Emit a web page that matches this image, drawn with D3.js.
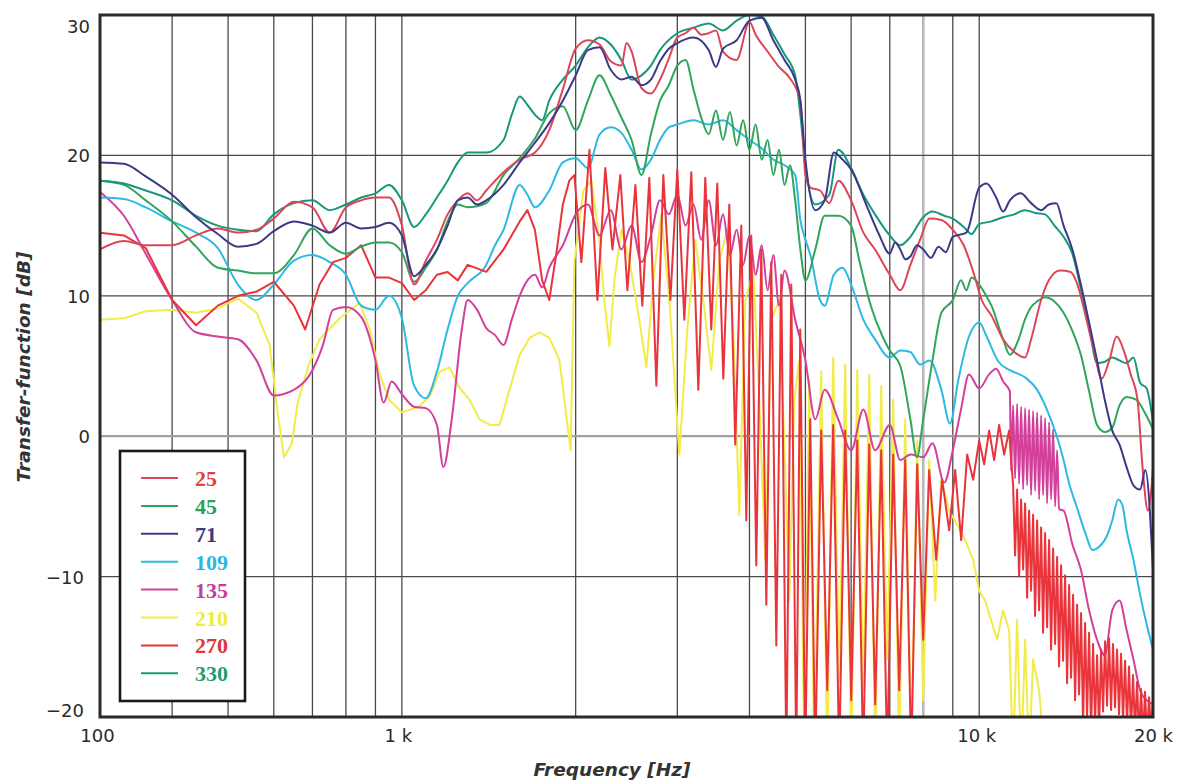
<!DOCTYPE html>
<html><head><meta charset="utf-8">
<script src="https://cdn.jsdelivr.net/npm/d3@7"></script>
<style>
body{margin:0;background:#fff;}
svg{display:block;}
</style></head>
<body>
<svg id="chart" width="1186" height="783"></svg>
<script>
// ---------------- data ----------------
const yTicks = [-20, -10, 0, 10, 20, 30];
const xTickValues = [300, 1000, 10000, 20000];
const xTickLabels = ["100", "1 k", "10 k", "20 k"];
const xGridFreqs = [400,500,600,700,800,900,1000,2000,3000,4000,5000,6000,7000,8000,9000,10000];
const seriesNames = ["25","45","71","109","135","210","270","330"];
const seriesColors = ["#dc4658","#30a55c","#3a3a88","#2cb9e2","#d2409c","#f1ec4c","#e8343a","#17987a"];
const legendTextColors = ["#e2403e","#2f9f52","#3b3b7e","#2bb5e6","#c43e9e","#eeee3a","#e0343e","#1d9e6e"];

const s25 = [[300,13.3],[330,13.9],[360,13.6],[400,13.6],[440,14.3],[480,14.8],[520,14.5],[560,14.7],[600,15.5],[650,16.7],[700,16.3],[750,14.5],[800,16.3],[850,16.8],[900,17],[950,17],[1000,15],[1050,10.8],[1100,12.5],[1150,14],[1200,15.8],[1250,16.8],[1300,17.3],[1350,16.8],[1400,17.5],[1500,18.8],[1600,19.7],[1700,20.2],[1800,21.8],[1900,24.7],[2000,27.6],[2100,28.2],[2200,27.9],[2300,26.7],[2400,26.4],[2450,28],[2500,27.4],[2600,24.8],[2700,24.4],[2800,25.4],[2900,26.9],[3000,28.4],[3100,28.7],[3200,29.1],[3300,28.6],[3400,28.7],[3500,28.9],[3600,27.4],[3800,26.8],[4000,29.5],[4100,28.6],[4300,27.4],[4500,26.3],[4700,25.5],[4900,23.9],[5000,18.6],[5100,17.7],[5300,17.5],[5500,16.6],[5700,18.2],[6000,16.8],[6300,14.5],[6600,13.3],[7000,11.5],[7300,10.4],[7600,12.2],[7900,14],[8200,15.5],[8600,15.4],[9000,14.7],[9400,13.6],[9800,11.5],[10100,9.7],[10500,8.6],[11000,6.9],[11500,6],[12000,5.6],[12300,6.9],[12800,9.7],[13200,11.1],[13800,11.8],[14400,11.7],[14800,10.8],[15300,8.5],[15800,6.1],[16300,4.1],[16800,5.4],[17300,7.1],[17800,6.1],[18300,4.4],[18800,2.6],[19200,-2.4],[19600,-5.3],[20000,-2.4]];

const s45 = [[300,18.2],[330,17.9],[360,16.8],[400,15.3],[440,13.5],[480,12],[520,11.8],[560,11.6],[600,11.6],[650,12.9],[700,14.8],[750,13.6],[800,13],[850,13.5],[900,13.8],[950,13.8],[1000,13.1],[1050,11],[1100,12],[1150,13.3],[1200,15.3],[1250,16.5],[1300,16.3],[1400,16.6],[1500,18.6],[1600,19.8],[1700,21.2],[1800,23],[1900,23.5],[2000,21.8],[2100,23.9],[2200,25.7],[2300,24.3],[2400,22.7],[2500,21.1],[2600,18.6],[2700,21.5],[2800,23.9],[2900,25],[3000,26.4],[3100,26.8],[3200,24.7],[3300,22.7],[3400,21.5],[3500,23.2],[3600,21.1],[3700,23.1],[3800,20.7],[3900,22.5],[4000,20.4],[4100,22.2],[4200,19.7],[4300,21.1],[4400,18.6],[4500,20.4],[4600,17.9],[4700,19.3],[4800,16.8],[4900,13.3],[5000,11.1],[5200,13.3],[5400,15.7],[5700,15.7],[6000,15],[6200,12.5],[6500,9.2],[6800,7.1],[7000,6.1],[7300,5],[7600,1.2],[7800,-1.5],[8000,1.2],[8300,5.4],[8600,8.8],[9000,9.7],[9300,11.1],[9500,10.4],[9700,11.3],[10000,10.8],[10250,10.1],[10500,9.3],[11000,6.9],[11300,5.8],[11700,6.9],[12000,8.3],[12300,9.2],[12600,9.6],[13000,9.9],[13500,9.6],[14000,8.8],[14500,7.5],[15000,5.8],[15500,3.2],[16000,0.8],[16500,0.3],[17000,0.6],[17500,2.2],[18000,2.8],[18700,2.6],[19400,1.6],[20000,0.5]];

const s71 = [[300,19.5],[330,19.4],[360,18.5],[400,17.2],[440,15.6],[480,14.4],[520,13.5],[560,13.7],[600,14.6],[650,15.3],[700,15],[750,14.5],[800,15.2],[850,14.8],[900,14.9],[950,15.2],[1000,14.3],[1050,11.4],[1100,12.2],[1150,13.3],[1200,15],[1250,16.8],[1300,17],[1350,16.5],[1400,16.8],[1500,17.9],[1600,19.5],[1700,20.9],[1800,22.3],[1900,23.9],[2000,25.7],[2100,27.5],[2200,27.7],[2300,26.1],[2400,25.4],[2500,25.6],[2600,25],[2700,25.4],[2800,26.7],[2900,27.6],[3000,28],[3200,28.4],[3400,27.5],[3500,26.3],[3600,27.6],[3800,28.2],[4000,29.6],[4200,29.8],[4400,28.2],[4600,26.8],[4800,25.4],[4900,23.9],[5000,19.7],[5200,16.1],[5400,16.8],[5600,20.2],[5800,19.7],[6000,19],[6400,16.3],[6700,14.4],[7000,13],[7150,13.8],[7300,13.3],[7450,12.6],[7600,12.8],[7800,13.6],[8000,13.3],[8250,12.7],[8500,13.5],[8750,13.1],[9000,14.2],[9500,14.5],[10000,17.7],[10300,18],[10700,17],[11000,16],[11300,16.8],[11800,17.3],[12300,16.6],[12800,16.1],[13200,16.5],[13600,16.6],[14000,15],[14500,13.3],[15000,10.8],[15500,8.1],[16000,5.4],[16500,2.6],[17000,0.4],[17500,-0.6],[18000,-2.2],[18500,-3.5],[19000,-3.8],[19400,-2.4],[20000,-9.5]];

const s109 = [[300,17],[330,16.9],[360,16.3],[400,15.3],[440,14.5],[480,13.4],[520,10.8],[560,9.7],[600,10.8],[650,12.5],[700,12.9],[750,12.4],[800,11.5],[850,9.3],[900,9],[950,10],[1000,8.4],[1050,3.6],[1100,2.7],[1150,4.6],[1200,7.6],[1250,10],[1300,10.9],[1400,12.2],[1450,13.6],[1500,14.7],[1600,17.9],[1650,17.2],[1700,16.3],[1800,17.5],[1900,19.5],[2000,19.8],[2100,19.1],[2200,21.5],[2300,22],[2400,21.6],[2500,20.4],[2600,19],[2700,19.7],[2800,21.1],[2900,22],[3000,22.2],[3200,22.5],[3400,22.2],[3600,22.5],[3800,21.8],[4000,21.1],[4200,20.5],[4400,19.7],[4600,19.3],[4800,18.6],[4900,15.4],[5000,14],[5100,12.9],[5300,9.7],[5400,9.3],[5600,11.5],[5800,12],[6000,10.8],[6300,8.3],[6600,6.9],[7000,5.6],[7300,6.1],[7600,6],[7900,5.1],[8200,5.4],[8600,3.3],[8900,0.9],[9200,4],[9600,7.1],[10000,8.1],[10300,7.1],[10800,5.3],[11300,4.7],[12000,4.2],[12600,3.3],[13100,1.9],[13600,0.1],[14000,-1.7],[14300,-3.3],[14800,-5.2],[15300,-7],[15700,-8.1],[16200,-7.8],[16600,-7.2],[17000,-6],[17400,-4.5],[17700,-4.9],[18000,-6.7],[18500,-8.8],[19000,-11.3],[19500,-13.4],[20000,-15.2]];

const s135 = [[300,17.4],[330,15.7],[360,13],[400,9.7],[440,7.4],[480,7.1],[520,6.9],[560,5.4],[600,2.9],[650,3.3],[700,4.7],[730,6.5],[760,9],[800,9.2],[850,8.5],[900,5.4],[930,2.4],[960,3.9],[1000,3],[1050,2.1],[1100,2],[1150,0.8],[1180,-2.2],[1220,1.2],[1270,7.6],[1300,9.7],[1350,9],[1400,7.7],[1450,7.2],[1500,6.5],[1550,8.3],[1600,10],[1650,11.1],[1700,11.5],[1750,10.6],[1800,12],[1900,13.6],[2000,15.8],[2100,16.5],[2200,14.3],[2300,16.1],[2400,13.3],[2500,15],[2600,12.4],[2700,14.3],[2800,16.8],[2900,15.8],[3000,17.2],[3100,15],[3200,16.5],[3300,14],[3400,16.8],[3500,13.6],[3600,15.8],[3700,12.9],[3800,14.7],[3900,12.2],[4000,14.3],[4100,11.5],[4200,13.6],[4300,10.4],[4400,12.9],[4500,9.3],[4600,11.8],[4800,8.3],[5000,5.4],[5200,1.2],[5400,3.3],[5700,1.2],[6000,-1],[6300,1.9],[6600,-1],[7000,0.8],[7300,-1.7],[7600,-1.3],[8000,-1.5],[8300,-0.5],[8700,-3.3],[9000,-1],[9300,1.9],[9600,4.4],[10000,3.4],[10400,4.4],[10700,4.8],[11000,3.9],[11300,3.2],[11357,-2.5],[11447,2.2],[11539,-3],[11632,2.3],[11725,-3.4],[11819,2.1],[11914,-3.8],[12009,2],[12105,-3.5],[12202,1.9],[12300,-4.2],[12398,1.8],[12497,-3.9],[12597,1.7],[12698,-4.5],[12800,1.5],[12902,-4.2],[13005,1.3],[13110,-4.8],[13215,1],[13321,-4.5],[13427,0.5],[13535,-5],[13643,-1],[13752,-5.2],[14000,-5.3],[14500,-7.7],[15000,-9.5],[15500,-12.4],[16000,-14.5],[16500,-15.6],[17000,-12.4],[17500,-11.7],[18000,-13.8],[18500,-15.9],[19000,-18.1],[19500,-18.8],[20000,-19.1]];

const s210 = [[300,8.3],[330,8.4],[360,8.9],[400,9],[440,8.8],[480,9.1],[520,9.8],[560,8.8],[590,6.5],[610,1.5],[625,-1.5],[645,-0.5],[660,2.4],[690,5.1],[720,6.9],[780,8.4],[845,9.5],[880,7.6],[915,4.4],[950,2.6],[1000,1.7],[1070,2.1],[1120,2.9],[1162,4.6],[1210,4.9],[1260,3.4],[1310,2.6],[1363,1.2],[1420,0.8],[1476,0.8],[1536,3.3],[1600,5.8],[1664,7],[1731,7.4],[1801,7],[1875,5.4],[1930,1.2],[1960,-1],[1990,12.5],[2063,17.5],[2130,18.2],[2198,14],[2242,9.7],[2288,6.4],[2334,11.1],[2400,14.7],[2478,12.5],[2578,8.3],[2651,4.9],[2726,11.1],[2814,15.8],[2906,9.7],[3024,-1.3],[3122,7.6],[3223,14],[3327,9.7],[3435,4.7],[3547,12.5],[3662,14.7],[3750,7.6],[3841,-5.6],[3934,9.7],[4061,11.8],[4160,2.6],[4261,-8.8],[4364,8.3],[4505,9.7],[4614,-2.4],[4688,-11.7],[4782,2.6],[4879,5.4],[4977,-23],[5077,4],[5179,-23],[5326,4.6],[5455,-23],[5586,5.6],[5722,-17.4],[5860,5.1],[6003,-23],[6148,4.7],[6296,-18.1],[6449,4.4],[6605,-23],[6765,3.6],[6928,-15.9],[7096,2.6],[7268,-23],[7444,1.2],[7625,-23],[7809,-0.3],[7997,-18.8],[8191,-1.7],[8389,-11.7],[8592,-3.1],[8871,-5.3],[9158,-6.3],[9456,-7.4],[9761,-8.8],[9998,-11],[10240,-11.7],[10487,-13.1],[10741,-14.5],[11000,-12.4],[11267,-13.8],[11447,-23],[11632,-13.1],[11819,-23],[12009,-14.5],[12202,-23],[12397,-15.9],[12698,-18.1],[13005,-23]];

const s270 = [[300,14.5],[330,14.3],[360,13.4],[400,9.7],[440,7.9],[480,9.3],[520,10],[560,10.3],[600,11],[650,9.3],[680,7.6],[720,10.8],[760,12.4],[800,12.7],[850,13.6],[900,11.3],[950,11.3],[1000,10.9],[1050,9.7],[1100,10.4],[1150,11.5],[1200,11.7],[1250,11.1],[1300,12.2],[1400,11.7],[1500,13.3],[1600,15.3],[1650,16.1],[1700,14.7],[1750,11.1],[1800,9.7],[1850,12.9],[1900,16.5],[1950,18.2],[1990,18.6],[2046,12.4],[2113,20.4],[2181,9.7],[2251,19.1],[2316,13.3],[2390,18.6],[2458,10.4],[2538,17.9],[2609,9.3],[2683,18.4],[2759,3.6],[2837,18.6],[2918,9.7],[3000,19],[3085,8.3],[3172,18.8],[3262,3.3],[3354,18.4],[3435,7.6],[3518,18],[3604,4.1],[3691,16.5],[3780,-0.6],[3872,15],[3950,-6],[4029,14.3],[4110,-9.2],[4193,13.3],[4278,-12],[4364,12.4],[4452,-14.9],[4541,11.5],[4633,-23],[4726,10.8],[4821,-23],[4898,7.6],[4997,-23],[5097,1.2],[5200,-23],[5326,0.4],[5455,-18.1],[5586,0.8],[5722,-23],[5860,0.4],[6003,-18.8],[6148,-0.3],[6296,-23],[6449,-0.6],[6605,-19.1],[6765,-1],[6928,-23],[7096,-1.3],[7268,-18.1],[7444,-1.7],[7625,-23],[7809,-2],[7997,-14.5],[8191,-2.4],[8423,-8.8],[8626,-3.1],[8871,-6.7],[9086,-2.4],[9306,-7.4],[9531,-1.3],[9761,-3.1],[9998,-0.3],[10199,-2],[10404,0.4],[10613,-1.7],[10827,0.8],[11045,-1.3],[11267,0.4],
  [11447,-3.5],[11539,-8.5],[11632,-3.8],[11725,-10],[11819,-4.5],[11914,-9.5],[12009,-4.8],[12105,-11.5],[12202,-5.3],[12300,-11],[12398,-5.6],[12497,-12.8],[12597,-6],[12698,-12.4],[12800,-6.5],[12902,-14],[13005,-6.9],[13110,-13.6],[13215,-7.4],[13321,-15.2],[13427,-8],[13535,-14.8],[13643,-8.6],[13752,-16.4],[13862,-9.2],[13973,-16],[14085,-9.9],[14198,-17.6],[14311,-10.6],[14426,-17.2],[14541,-11.3],[14658,-18.8],[14775,-12],[14893,-18.4],[15012,-12.6],[15132,-20.5],[15253,-13.3],[15375,-20],[15499,-14],[15623,-21],[15748,-14.8],[15874,-20.5],[16001,-15.6],[16129,-21],[16258,-15.2],[16388,-19.6],[16519,-14.6],[16651,-19.2],[16785,-14.4],[16919,-19.5],[17054,-14.8],[17191,-19.3],[17328,-15.2],[17467,-19.8],[17607,-15.5],[17748,-20.2],[17890,-16],[18033,-20.5],[18177,-16.4],[18322,-21],[18469,-17],[18617,-21],[18766,-17.5],[18916,-21.5],[19067,-18],[19220,-21.5],[19374,-18.2],[19529,-21.5],[19686,-18.6],[19843,-21],[20000,-18.8]];

const s330 = [[300,18.2],[330,18],[360,17.5],[400,16.8],[440,15.7],[480,15],[520,14.7],[560,14.6],[600,15.8],[650,16.6],[700,16.8],[750,16.1],[800,16.5],[850,17],[900,17.3],[950,17.9],[1000,16.8],[1050,14.9],[1100,15.8],[1150,17],[1200,18.2],[1250,19.5],[1300,20.2],[1400,20.2],[1500,21.1],[1550,22.9],[1600,24.2],[1650,23.6],[1700,22.9],[1750,22.5],[1800,23.9],[1900,25.4],[2000,26.4],[2100,27.7],[2200,28.4],[2300,27.9],[2400,26.8],[2500,25.4],[2600,25.7],[2700,26.4],[2800,27.5],[3000,28.7],[3200,29.1],[3400,29.4],[3600,28.9],[3800,29.6],[4000,30],[4200,29.9],[4400,28.6],[4600,27.2],[4800,25.7],[4900,22.9],[5000,19.3],[5200,16.5],[5500,17.2],[5700,20.4],[6000,19.1],[6300,17.2],[6600,15.8],[7000,14.3],[7300,13.6],[7600,14.2],[8000,15.6],[8300,16],[8700,15.7],[9000,15.5],[9400,14.9],[9700,14.4],[10000,15.1],[10500,15.3],[11000,15.6],[11500,15.8],[12000,16.1],[12500,15.9],[13000,15.8],[13500,15],[14000,14.2],[14500,13],[15000,10.5],[15500,7.8],[16000,5.2],[16500,5.3],[17000,5.6],[17500,5.4],[18000,5.2],[18500,5.6],[19000,3.8],[19500,3.4],[20000,1]];

const seriesData = {"25":s25,"45":s45,"71":s71,"109":s109,"135":s135,"210":s210,"270":s270,"330":s330};
const drawOrder = ["210","135","109","270","45","330","25","71"];
const combSeries = ["210","270"];

// ---------------- chart ----------------
const L = 100, R = 1153, T = 15, B = 717;
const x = d3.scaleLog().domain([300, 20000]).range([L, R]);
const y = d3.scaleLinear().domain([-20, 30]).range([B, T]);
const svg = d3.select("#chart");

svg.append("defs").append("clipPath").attr("id", "clip")
  .append("rect").attr("x", L).attr("y", T).attr("width", R - L).attr("height", B - T);

const grid = svg.append("g");
grid.selectAll("line.v").data(xGridFreqs).enter().append("line")
  .attr("x1", d => x(d)).attr("x2", d => x(d)).attr("y1", T).attr("y2", B)
  .attr("stroke", d => d === 8000 ? "#b8b8b8" : "#4a4a4a")
  .attr("stroke-width", d => d === 8000 ? 2.6 : 1.3);
grid.selectAll("line.h").data(yTicks.filter(v => v > -20 && v < 30)).enter().append("line")
  .attr("x1", L).attr("x2", R).attr("y1", d => y(d)).attr("y2", d => y(d))
  .attr("stroke", d => d === 0 ? "#a0a0a0" : "#4a4a4a")
  .attr("stroke-width", d => d === 0 ? 2.2 : 1.3);

const smoothLine = d3.line().x(d => x(d[0])).y(d => y(d[1])).curve(d3.curveMonotoneX);
const sharpLine = d3.line().x(d => x(d[0])).y(d => y(d[1])).curve(d3.curveLinear);
const plot = svg.append("g").attr("clip-path", "url(#clip)");
drawOrder.forEach(name => {
  const i = seriesNames.indexOf(name);
  plot.append("path").datum(seriesData[name])
    .attr("fill", "none").attr("stroke", seriesColors[i])
    .attr("stroke-width", 2).attr("stroke-linejoin", "round")
    .attr("d", combSeries.includes(name) ? sharpLine : smoothLine);
});

// frame
svg.append("rect").attr("x", L).attr("y", T).attr("width", R - L).attr("height", B - T)
  .attr("fill", "none").attr("stroke", "#2a2a2a").attr("stroke-width", 3);

// axes
const fontAxis = "'DejaVu Sans', 'Liberation Sans', Arial, sans-serif";
const yAxis = svg.append("g").attr("transform", `translate(${L},0)`)
  .call(d3.axisLeft(y).tickValues(yTicks).tickSize(0).tickPadding(10).tickFormat(d3.format("d")));
yAxis.select(".domain").remove();
yAxis.selectAll("text").attr("font-family", fontAxis).attr("font-size", 18).attr("fill", "#2a2a2a")
  .attr("dy", d => d === 30 ? "0.95em" : (d === -20 ? "-0.05em" : "0.36em"))
  .attr("dx", d => d < 0 ? -6 : 0);

const xAxis = svg.append("g").attr("transform", `translate(0,${B})`)
  .call(d3.axisBottom(x).tickValues(xTickValues).tickSize(0).tickPadding(12)
    .tickFormat((d, i) => xTickLabels[i]));
xAxis.select(".domain").remove();
xAxis.selectAll("text").attr("font-family", fontAxis).attr("font-size", 18).attr("fill", "#2a2a2a")
  .attr("dx", (d, i) => i === 0 ? -3 : (i === 1 ? -4 : (i === 2 ? -3 : 0)));

// titles
svg.append("text").attr("transform", "translate(30,367) rotate(-90)")
  .attr("text-anchor", "middle").attr("font-family", fontAxis).attr("font-weight", "bold")
  .attr("font-style", "italic").attr("font-size", 18.5).attr("fill", "#333")
  .text("Transfer-function [dB]");
svg.append("text").attr("x", 612).attr("y", 776)
  .attr("text-anchor", "middle").attr("font-family", fontAxis).attr("font-weight", "bold")
  .attr("font-style", "italic").attr("font-size", 18.5).attr("fill", "#333")
  .text("Frequency [Hz]");

// legend
const lg = svg.append("g");
lg.append("rect").attr("x", 120).attr("y", 451).attr("width", 125).attr("height", 250)
  .attr("fill", "#fff").attr("stroke", "#1a1a1a").attr("stroke-width", 2.6);
seriesNames.forEach((name, i) => {
  const cy = 478 + i * 27.9;
  lg.append("line").attr("x1", 141).attr("x2", 178).attr("y1", cy).attr("y2", cy)
    .attr("stroke", seriesColors[i]).attr("stroke-width", 2);
  lg.append("text").attr("x", 195).attr("y", cy + 8)
    .attr("font-family", "'Liberation Serif', 'DejaVu Serif', serif").attr("font-weight", "bold")
    .attr("font-size", 22).attr("fill", legendTextColors[i]).text(name);
});
</script>
</body></html>
